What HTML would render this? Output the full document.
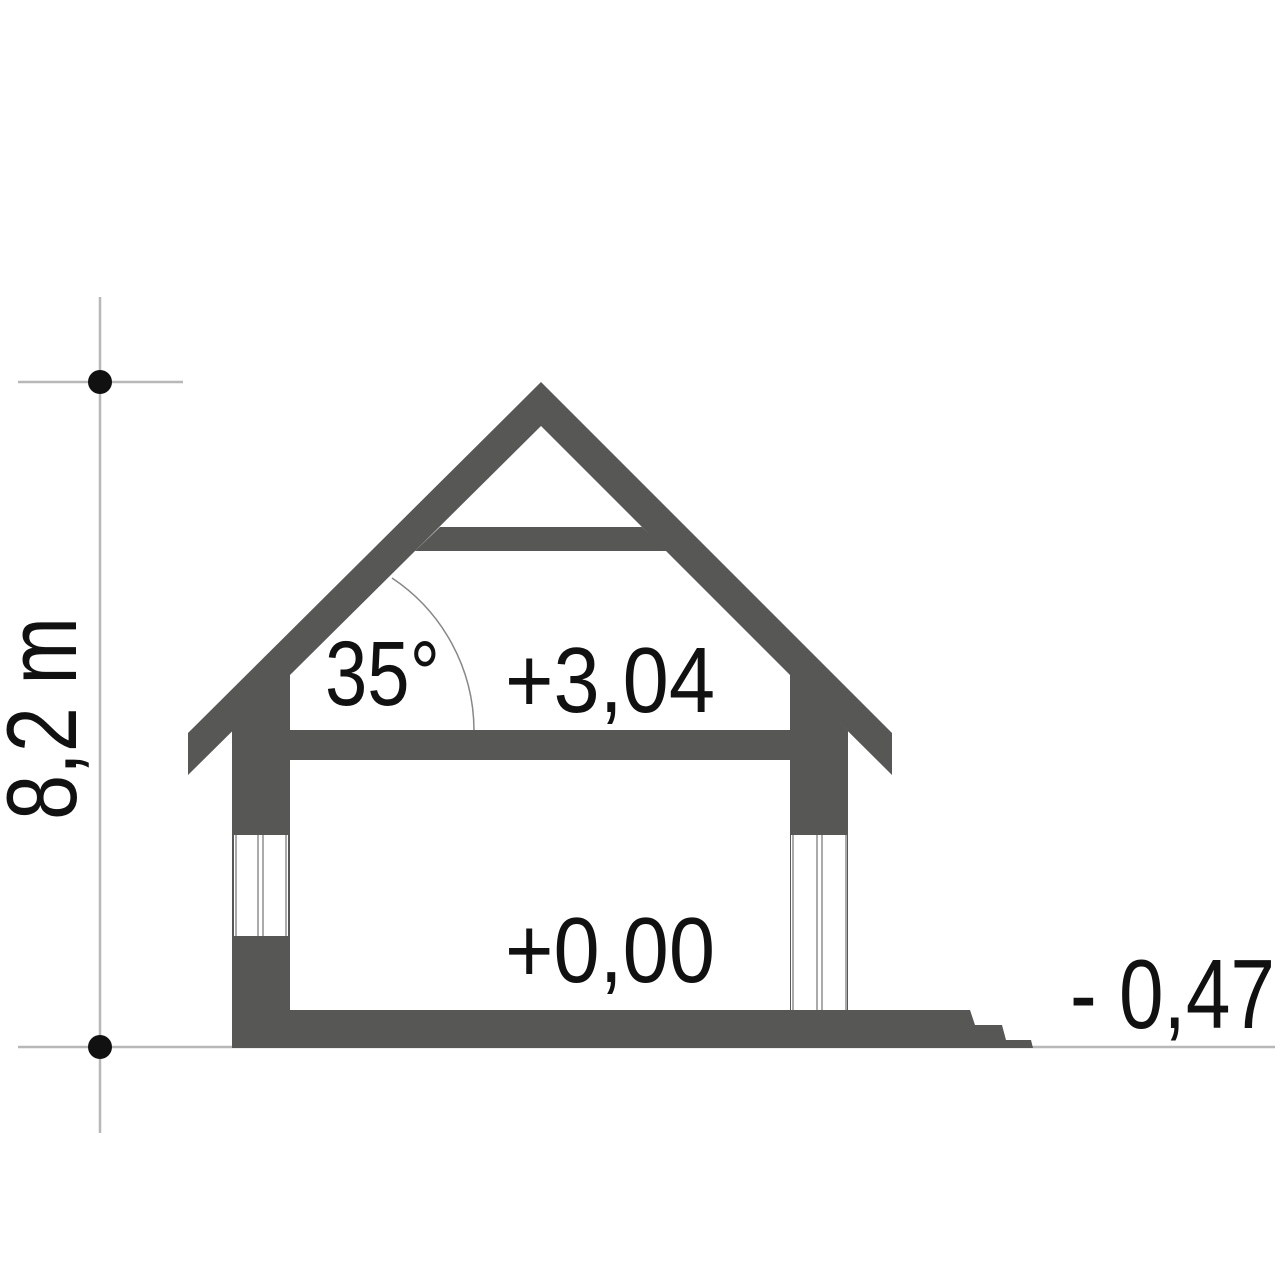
<!DOCTYPE html>
<html><head><meta charset="utf-8"><style>html,body{margin:0;padding:0;background:#fff;}svg{display:block}</style></head>
<body>
<svg width="1280" height="1280" viewBox="0 0 1280 1280" xmlns="http://www.w3.org/2000/svg">
<rect width="1280" height="1280" fill="#fff"/>
<!-- dimension lines -->
<g stroke="#b8b8b8" stroke-width="2.5" fill="none">
<line x1="100" y1="297" x2="100" y2="1133"/>
<line x1="18" y1="382" x2="183" y2="382"/>
<line x1="18" y1="1047" x2="1275" y2="1047"/>
</g>
<circle cx="100" cy="382" r="12" fill="#111"/>
<circle cx="100" cy="1047" r="12" fill="#111"/>
<!-- building -->
<g fill="#575755">
<polygon points="188,733 541,382 892,733 892,775 541,426 188,775"/>
<polygon points="232,731 541,424 848,731 848,1048 232,1048"/>
<polygon points="848,1010 970,1010 975,1025 1002,1025 1006,1040 1031,1040 1033,1048 848,1048"/>
</g>
<g fill="#fff">
<polygon points="290,675 541,426 790,675 790,730 290,730"/>
<rect x="290" y="760" width="500" height="250"/>
<rect x="234" y="835" width="54" height="101"/>
<rect x="791" y="835" width="56" height="175"/>
</g>
<polygon points="440,527 642,527 667,551 415,551" fill="#575755"/>
<g stroke="#aaa" stroke-width="2" fill="none">
<line x1="236" y1="835" x2="236" y2="936"/>
<line x1="258" y1="835" x2="258" y2="936"/>
<line x1="263" y1="835" x2="263" y2="936"/>
<line x1="286" y1="835" x2="286" y2="936"/>
<line x1="793" y1="835" x2="793" y2="1010"/>
<line x1="817" y1="835" x2="817" y2="1010"/>
<line x1="822" y1="835" x2="822" y2="1010"/>
<line x1="846" y1="835" x2="846" y2="1010"/>
<path d="M392,578 A184,184 0 0 1 474,730" stroke="#888" stroke-width="1.5"/>
</g>
<g font-family="Liberation Sans, sans-serif" fill="#111">
<text x="325" y="705" font-size="92" textLength="115" lengthAdjust="spacingAndGlyphs">35°</text>
<text x="505" y="712" font-size="93" textLength="210" lengthAdjust="spacingAndGlyphs">+3,04</text>
<text x="505" y="982" font-size="93" textLength="210" lengthAdjust="spacingAndGlyphs">+0,00</text>
<text x="1070" y="1028" font-size="98" textLength="205" lengthAdjust="spacingAndGlyphs">- 0,47</text>
<text transform="translate(76,820) rotate(-90)" font-size="99" textLength="203" lengthAdjust="spacingAndGlyphs">8,2 m</text>
</g>
</svg>
</body></html>
